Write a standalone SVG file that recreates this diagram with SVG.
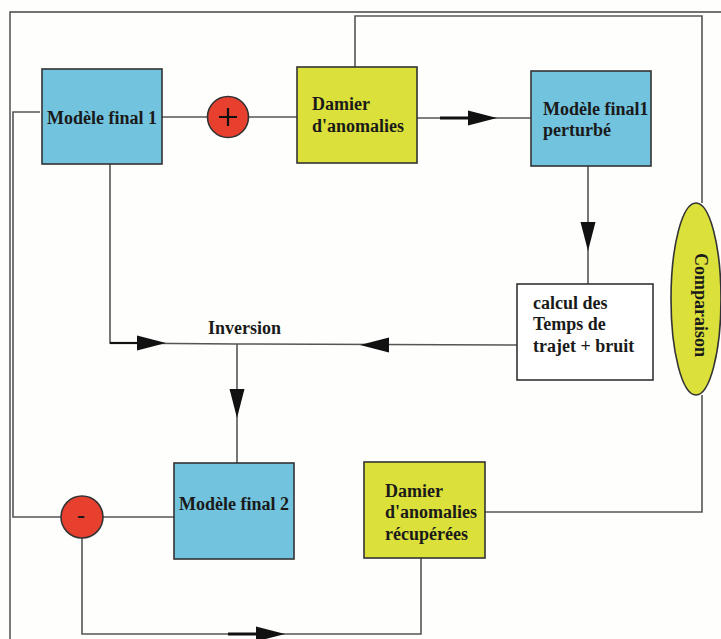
<svg xmlns="http://www.w3.org/2000/svg" width="721" height="639" viewBox="0 0 721 639">
<style>
.bg{fill:#fefefd}
.conn{fill:none;stroke:#555;stroke-width:1.6}
.frame{fill:none;stroke:#444;stroke-width:1.4}
.blue{fill:#72c3de;stroke:#333;stroke-width:1.6}
.yellow{fill:#dbe03a;stroke:#333;stroke-width:1.6}
.white{fill:#fff;stroke:#333;stroke-width:1.6}
.red{fill:#e8402f;stroke:#333;stroke-width:1.6}
.t{font-family:"Liberation Serif","Times New Roman",serif;font-weight:bold;font-size:18px;fill:#1a1a1a}
.arrh{fill:#111}
.arrs{stroke:#111;stroke-width:3}
</style>
<defs>
<path id="head" class="arrh" d="M0,0 L-29,-7.5 L-29,7.5 Z"/>
<g id="arr">
<line class="arrs" x1="-57" y1="0" x2="-28" y2="0"/>
<use href="#head"/>
</g>
</defs>
<rect class="bg" x="0" y="0" width="721" height="639"/>
<g id="frame">
<polyline class="frame" points="721,12 10,12 10,639"/>
</g>
<g id="connectors">
<line class="conn" x1="162" y1="117" x2="208" y2="117"/>
<line class="conn" x1="249" y1="117" x2="297" y2="117"/>
<line class="conn" x1="417" y1="118" x2="531" y2="118"/>
<use href="#arr" transform="translate(497,118)"/>
<polyline class="conn" points="355,67 355,16 702,16 702,203"/>
<line class="conn" x1="588" y1="166" x2="588" y2="284"/>
<use href="#head" transform="translate(588,251) rotate(90)"/>
<line class="conn" x1="517" y1="345" x2="237" y2="344"/>
<use href="#head" transform="translate(360,345) rotate(180)"/>
<polyline class="conn" points="110,164 110,343 237,344"/>
<line class="arrs" x1="110" y1="343" x2="138" y2="343" style="stroke-width:2.2"/>
<use href="#head" transform="translate(166,343)"/>
<line class="conn" x1="237" y1="344" x2="237" y2="463"/>
<use href="#head" transform="translate(237,418) rotate(90)"/>
<polyline class="conn" points="40,112 13,112 13,517 61,517"/>
<line class="conn" x1="103" y1="517" x2="174" y2="517"/>
<polyline class="conn" points="82,538 82,634 421,634 421,558"/>
<use href="#arr" transform="translate(285,634)"/>
<polyline class="conn" points="485,512 702,512 702,395"/>
</g>
<g id="modele-final-1">
<rect class="blue" x="42" y="69" width="120" height="95"/>
<text class="t" x="102" y="124" text-anchor="middle">Modèle final 1</text>
</g>
<g id="plus">
<circle class="red" cx="228" cy="117" r="20.5"/>
<path d="M219,117 H237 M228,108 V126" stroke="#111" stroke-width="2.2"/>
</g>
<g id="damier">
<rect class="yellow" x="297" y="67" width="120" height="96"/>
<text class="t" x="312" y="110">Damier</text>
<text class="t" x="312" y="132">d'anomalies</text>
</g>
<g id="modele-final-1-perturbe">
<rect class="blue" x="531" y="71" width="120" height="95"/>
<text class="t" x="543" y="115">Modèle final1</text>
<text class="t" x="543" y="136">perturbé</text>
</g>
<g id="calcul">
<rect class="white" x="517" y="284" width="136" height="96"/>
<text class="t" x="533" y="309">calcul des</text>
<text class="t" x="533" y="330">Temps de</text>
<text class="t" x="533" y="352">trajet + bruit</text>
</g>
<g id="inversion">
<text class="t" x="208" y="334">Inversion</text>
</g>
<g id="comparaison">
<ellipse class="yellow" cx="696" cy="299" rx="25" ry="96"/>
<text class="t" transform="translate(695,305) rotate(90)" text-anchor="middle">Comparaison</text>
</g>
<g id="modele-final-2">
<rect class="blue" x="174" y="463" width="120" height="96"/>
<text class="t" x="234" y="510" text-anchor="middle">Modèle final 2</text>
</g>
<g id="minus">
<circle class="red" cx="82" cy="517" r="21"/>
<text class="t" x="81" y="523" text-anchor="middle" style="font-size:24px">-</text>
</g>
<g id="damier-recuperees">
<rect class="yellow" x="364" y="462" width="121" height="96"/>
<text class="t" x="385" y="497">Damier</text>
<text class="t" x="385" y="518">d'anomalies</text>
<text class="t" x="385" y="540">récupérées</text>
</g>
</svg>
